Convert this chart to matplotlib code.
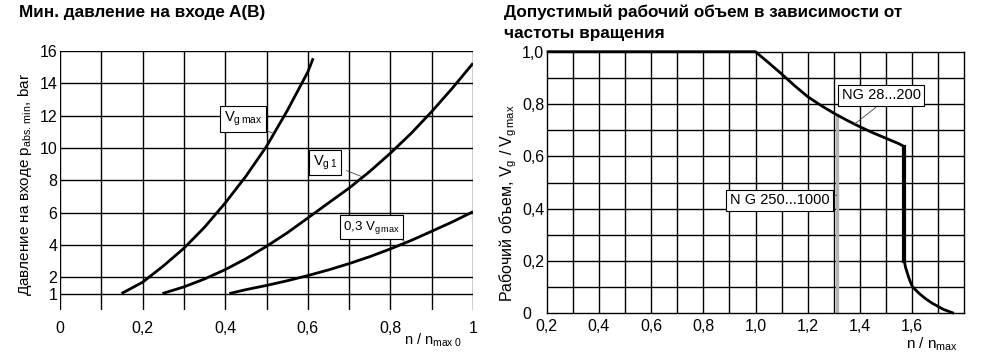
import matplotlib
matplotlib.use("Agg")
import matplotlib.pyplot as plt
import numpy as np

plt.rcParams['font.family'] = ['Liberation Sans', 'DejaVu Sans']
plt.rcParams['mathtext.fontset'] = 'custom'
plt.rcParams['mathtext.rm'] = 'Liberation Sans'
plt.rcParams['mathtext.it'] = 'Liberation Sans'
plt.rcParams['mathtext.default'] = 'regular'

# ---------------- Left chart data ----------------
left_xticks = [0, 0.2, 0.4, 0.6, 0.8, 1.0]
left_xticklabels = ["0", "0,2", "0,4", "0,6", "0,8", "1"]
left_yticks = [1, 2, 4, 6, 8, 10, 12, 14, 16]
left_yticklabels = ["1", "2", "4", "6", "8", "10", "12", "14", "16"]

vgmax_x = [0.149, 0.2, 0.25, 0.3, 0.35, 0.4, 0.45, 0.5, 0.55, 0.6, 0.613]
vgmax_y = [1.0, 1.7, 2.7, 3.8, 5.1, 6.6, 8.25, 10.1, 12.3, 14.7, 15.55]

vg1_x = [0.248, 0.3, 0.35, 0.4, 0.45, 0.5, 0.55, 0.6, 0.65, 0.7, 0.75, 0.8, 0.85, 0.9, 0.95, 1.0]
vg1_y = [1.0, 1.41, 1.9, 2.48, 3.15, 3.92, 4.75, 5.67, 6.6, 7.52, 8.55, 9.68, 10.9, 12.25, 13.7, 15.24]

vg03_x = [0.41, 0.45, 0.5, 0.55, 0.6, 0.65, 0.7, 0.75, 0.8, 0.85, 0.9, 0.95, 1.0]
vg03_y = [1.0, 1.24, 1.5, 1.79, 2.11, 2.46, 2.85, 3.28, 3.76, 4.28, 4.85, 5.43, 6.06]

# ---------------- Right chart data ----------------
right_xticks = [0.2, 0.4, 0.6, 0.8, 1.0, 1.2, 1.4, 1.6]
right_xticklabels = ["0,2", "0,4", "0,6", "0,8", "1,0", "1,2", "1,4", "1,6"]
right_yticks = [0, 0.2, 0.4, 0.6, 0.8, 1.0]
right_yticklabels = ["0", "0,2", "0,4", "0,6", "0,8", "1,0"]

ng28_x = [0.2, 1.0, 1.05, 1.1, 1.15, 1.2, 1.25, 1.3, 1.35, 1.4, 1.45, 1.5, 1.55, 1.57]
ng28_y = [1.0, 1.0, 0.958, 0.915, 0.87, 0.828, 0.795, 0.765, 0.738, 0.713, 0.69, 0.669, 0.648, 0.637]
drop_x = [1.57, 1.57]
drop_y = [0.637, 0.2]
tail_x = [1.57, 1.575, 1.582, 1.59, 1.601, 1.627, 1.65, 1.678, 1.72, 1.76]
tail_y = [0.2, 0.175, 0.153, 0.128, 0.102, 0.076, 0.057, 0.038, 0.015, 0.0]

ng250_x = [1.311, 1.311]
ng250_y = [0.0, 0.758]

W, H = 985, 354
fig = plt.figure(figsize=(W / 100, H / 100), dpi=100)
TICK_FS = 11.5

# ---------------- Left axes ----------------
axL = fig.add_axes([60 / W, 1 - 309.7 / H, (473 - 60) / W, (309.7 - 51) / H])
axL.set_xlim(0, 1)
axL.set_ylim(0, 16)
for s in axL.spines.values():
    s.set_visible(False)
for xv in np.arange(0, 1.0001, 0.1):
    axL.axvline(xv, color='black', lw=1.0, zorder=1)
for yv in left_yticks:
    axL.axhline(yv, color='black', lw=1.0, zorder=1)
axL.plot(vgmax_x, vgmax_y, color='black', lw=2.0, zorder=3, solid_capstyle='butt')
axL.plot(vg1_x, vg1_y, color='black', lw=2.0, zorder=3, solid_capstyle='butt')
axL.plot(vg03_x, vg03_y, color='black', lw=2.0, zorder=3, solid_capstyle='butt')
axL.set_xticks(left_xticks)
axL.set_xticklabels(left_xticklabels)
axL.set_yticks(left_yticks)
axL.set_yticklabels(left_yticklabels)
axL.tick_params(axis='both', length=0, labelsize=TICK_FS)
axL.tick_params(axis='x', pad=8)
axL.tick_params(axis='y', pad=2)

box = dict(boxstyle='square,pad=0.25', fc='white', ec='black', lw=0.8)
axL.text(0.443, 11.8, r"V$_{g\,max}$", fontsize=10.5, ha='center', va='center', bbox=box, zorder=5)
axL.plot([0.492, 0.517], [11.16, 10.9], color='#444444', lw=0.6, zorder=4)
axL.text(0.642, 9.1, r"V$_{g\,1}$", fontsize=10.5, ha='center', va='center', bbox=box, zorder=5)
axL.plot([0.694, 0.73], [8.6, 8.24], color='#444444', lw=0.6, zorder=4)
axL.text(0.754, 5.1, r"0,3 V$_{g\,max}$", fontsize=9.5, ha='center', va='center', bbox=box, zorder=5)
axL.plot([0.819, 0.839], [4.5, 4.13], color='#444444', lw=0.6, zorder=4)

fig.text(19 / W, 1 - 13 / H, "Мин. давление на входе A(B)", fontsize=12.3, fontweight='bold',
         ha='left', va='center')
fig.text(25 / W, 1 - 185 / H, r"Давление на входе p$_{abs.\,min}$, bar", fontsize=11,
         rotation=90, ha='center', va='center')
fig.text(462 / W, 1 - 340 / H, r"n / n$_{max\;0}$", fontsize=10.5, ha='right', va='center')

# ---------------- Right axes ----------------
axR = fig.add_axes([546.7 / W, 1 - 313.3 / H, (964.3 - 546.7) / W, (313.3 - 51.7) / H])
axR.set_xlim(0.2, 1.8)
axR.set_ylim(0, 1.0)
for s in axR.spines.values():
    s.set_linewidth(1.0)
for xv in np.arange(0.3, 1.75, 0.1):
    axR.axvline(xv, color='black', lw=1.0, zorder=1)
for yv in np.arange(0.1, 0.95, 0.1):
    axR.axhline(yv, color='black', lw=1.0, zorder=1)
axR.plot(ng250_x, ng250_y, color='#b4b4b4', lw=2.4, zorder=2, solid_capstyle='butt')
axR.plot(ng28_x, ng28_y, color='black', lw=2.0, zorder=3, solid_capstyle='butt', clip_on=False)
axR.plot(drop_x, drop_y, color='black', lw=3.0, zorder=3, solid_capstyle='projecting')
axR.plot(tail_x, tail_y, color='black', lw=2.0, zorder=3, solid_capstyle='butt', clip_on=False)
axR.set_xticks(right_xticks)
axR.set_xticklabels(right_xticklabels)
axR.set_yticks(right_yticks)
axR.set_yticklabels(right_yticklabels)
axR.tick_params(axis='both', length=0, labelsize=TICK_FS)
axR.tick_params(axis='x', pad=4)
axR.tick_params(axis='y', pad=17.8)
for lab in axR.get_yticklabels():
    lab.set_horizontalalignment('left')

axR.text(1.4815, 0.833, "NG 28...200", fontsize=10.5, ha='center', va='center', bbox=box, zorder=5)
axR.plot([1.461, 1.375], [0.787, 0.72], color='#444444', lw=0.6, zorder=4)
axR.text(1.0915, 0.432, "N G 250...1000", fontsize=10.5, ha='center', va='center', bbox=box, zorder=5)
axR.plot([1.276, 1.311], [0.44, 0.452], color='#444444', lw=0.6, zorder=4)

fig.text(504 / W, 1 - 12 / H, "Допустимый рабочий объем в зависимости от", fontsize=12.3,
         fontweight='bold', ha='left', va='center')
fig.text(504 / W, 1 - 33.5 / H, "частоты вращения", fontsize=12.3,
         fontweight='bold', ha='left', va='center')
fig.text(508 / W, 1 - 203 / H, r"Рабочий объем, V$_g$ / V$_{g\,max}$", fontsize=11.5,
         rotation=90, ha='center', va='center')
fig.text(958 / W, 1 - 344 / H, r"n / n$_{max}$", fontsize=11, ha='right', va='center')

fig.savefig("out.png", dpi=100)
